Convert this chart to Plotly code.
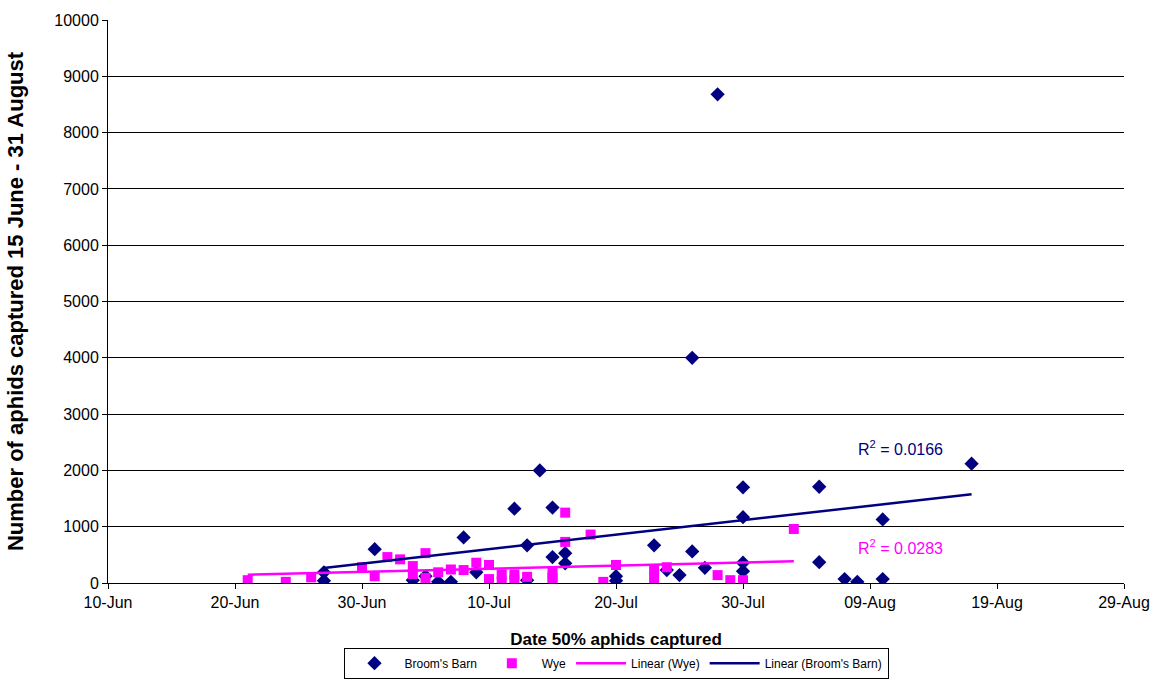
import numpy as np
import pandas as pd
import plotly.graph_objects as go

# Broom's Barn: date 50% of aphids captured, total captured 15 June - 31 August
bb_dates = ["06-27", "06-27", "07-01", "07-04", "07-05", "07-06", "07-07", "07-08",
            "07-09", "07-12", "07-13", "07-13", "07-14", "07-15", "07-15", "07-16",
            "07-16", "07-20", "07-20", "07-23", "07-24", "07-25", "07-26", "07-26",
            "07-27", "07-28", "07-30", "07-30", "07-30", "07-30", "08-05", "08-05",
            "08-07", "08-08", "08-10", "08-10", "08-17"]
bb_counts = [190, 40, 600, 50, 120, 20, 20, 810,
             190, 1320, 670, 50, 2000, 1340, 460, 530,
             350, 120, 40, 670, 230, 140, 4000, 560,
             270, 8680, 1700, 1170, 360, 210, 1710, 370,
             70, 20, 1130, 70, 2120]

# Wye
wye_dates = ["06-21", "06-24", "06-26", "06-30", "07-01", "07-02", "07-03", "07-04",
             "07-04", "07-05", "07-05", "07-06", "07-07", "07-08", "07-09", "07-10",
             "07-10", "07-11", "07-11", "07-12", "07-12", "07-13", "07-15", "07-15",
             "07-15", "07-16", "07-16", "07-18", "07-19", "07-20", "07-23", "07-23",
             "07-24", "07-28", "07-29", "07-30", "08-03"]
wye_counts = [50, 20, 100, 280, 120, 460, 420, 300,
              160, 530, 90, 190, 240, 230, 360, 320,
              70, 150, 30, 150, 50, 110, 200, 100,
              30, 1250, 730, 860, 20, 320, 230, 80,
              280, 140, 50, 50, 960]

r2_bb = "0.0166"
r2_wye = "0.0283"

tick_labels = ["10-Jun", "20-Jun", "30-Jun", "10-Jul", "20-Jul",
               "30-Jul", "09-Aug", "19-Aug", "29-Aug"]

YEAR = "2005"
NAVY = "#000080"
MAGENTA = "#FF00FF"
FONT = "Liberation Sans, Arial, sans-serif"


def to_dates(md):
    return pd.to_datetime([f"{YEAR}-{d}" for d in md])


bb_x = to_dates(bb_dates)
wye_x = to_dates(wye_dates)
tick_vals = pd.date_range(f"{YEAR}-06-10", periods=len(tick_labels), freq="10D")


def linear_fit(x, y):
    days = (x - x.min()).days.values.astype(float)
    slope, intercept = np.polyfit(days, np.asarray(y, float), 1)
    ends = np.array([days.min(), days.max()])
    return [x.min(), x.max()], list(intercept + slope * ends)


bb_fx, bb_fy = linear_fit(bb_x, bb_counts)
wye_fx, wye_fy = linear_fit(wye_x, wye_counts)

fig = go.Figure()
fig.add_trace(go.Scatter(
    x=bb_x, y=bb_counts, mode="markers", name="Broom's Barn",
    marker=dict(symbol="diamond", size=11, color=NAVY, line=dict(width=0))))
fig.add_trace(go.Scatter(
    x=wye_x, y=wye_counts, mode="markers", name="Wye",
    marker=dict(symbol="square", size=10, color=MAGENTA, line=dict(width=0))))
fig.add_trace(go.Scatter(
    x=wye_fx, y=wye_fy, mode="lines", name="Linear (Wye)",
    line=dict(color=MAGENTA, width=2.5)))
fig.add_trace(go.Scatter(
    x=bb_fx, y=bb_fy, mode="lines", name="Linear (Broom's Barn)",
    line=dict(color=NAVY, width=2.5)))

r2_x = pd.Timestamp(f"{YEAR}-08-11 10:00")
fig.add_annotation(x=r2_x, y=2400,
                   text=f"R<sup>2</sup> = {r2_bb}", showarrow=False,
                   font=dict(family=FONT, size=16, color=NAVY))
fig.add_annotation(x=r2_x, y=640,
                   text=f"R<sup>2</sup> = {r2_wye}", showarrow=False,
                   font=dict(family=FONT, size=16, color=MAGENTA))

fig.update_layout(
    width=1163, height=697,
    margin=dict(l=108, r=39, t=17, b=114),
    paper_bgcolor="white", plot_bgcolor="white",
    font=dict(family=FONT, size=16, color="black"),
    showlegend=True,
    legend=dict(orientation="h", x=0.5, xanchor="center", xref="paper",
                y=-0.1148, yanchor="top", yref="paper",
                bordercolor="black", borderwidth=1, bgcolor="white",
                font=dict(family=FONT, size=12),
                itemwidth=50, tracegroupgap=0),
    xaxis=dict(
        range=[tick_vals[0], tick_vals[-1]],
        tickmode="array", tickvals=tick_vals, ticktext=tick_labels,
        ticks="outside", ticklen=5, tickcolor="black",
        showline=True, linecolor="black", linewidth=1,
        showgrid=False, zeroline=False,
        title=dict(text="<b>Date 50% aphids captured</b>", standoff=22,
                   font=dict(family=FONT, size=17)),
        tickfont=dict(family=FONT, size=16)),
    yaxis=dict(
        range=[0, 10000], dtick=1000, tick0=0, tickformat="d",
        ticks="outside", ticklen=5, tickcolor="black",
        showline=True, linecolor="black", linewidth=1,
        showgrid=True, gridcolor="black", gridwidth=1, zeroline=False,
        title=dict(text="<b>Number of aphids captured 15 June - 31 August</b>",
                   standoff=24, font=dict(family=FONT, size=22)),
        tickfont=dict(family=FONT, size=16)),
)

fig.write_html("out.html")
